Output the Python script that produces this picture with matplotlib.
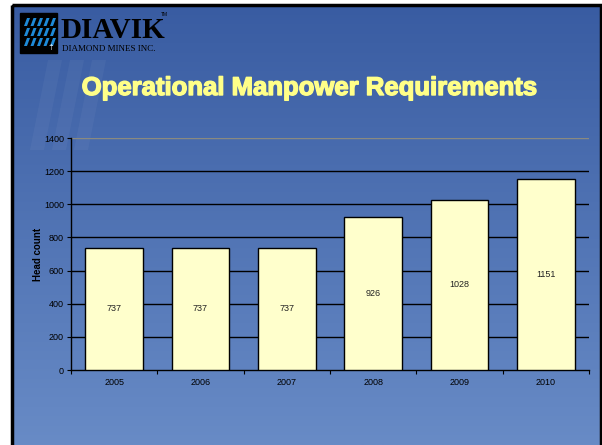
import numpy as np
import matplotlib
matplotlib.use("Agg")
import matplotlib.pyplot as plt
from matplotlib.patches import Rectangle, Polygon
import matplotlib.patheffects as pe

# data
years = ["2005", "2006", "2007", "2008", "2009", "2010"]
head_count = [737, 737, 737, 926, 1028, 1151]
y_ticks = [0, 200, 400, 600, 800, 1000, 1200, 1400]

plt.rcParams['font.family'] = ['Liberation Sans', 'DejaVu Sans']

fig = plt.figure(figsize=(6.02, 4.45), dpi=100)
fig.patch.set_facecolor("white")

# background "slide" in pixel coordinates
bg = fig.add_axes([0, 0, 1, 1])
bg.set_xlim(0, 602)
bg.set_ylim(445, 0)
bg.axis("off")

grad = np.linspace(0, 1, 256).reshape(-1, 1)
top = np.array([0x39, 0x5c, 0xa2]) / 255
bottom = np.array([0x68, 0x8b, 0xc6]) / 255
img = top + (bottom - top) * grad[:, :, None]
bg.imshow(img, extent=[12, 601, 445, 5], aspect="auto", zorder=0)
bg.add_patch(Rectangle((12, 5), 589, 442, fill=False, edgecolor="black", lw=2.5, zorder=1))

# faint watermark shapes on the left
for dx in [0, 22, 44]:
    bg.add_patch(Polygon([(30 + dx, 150), (48 + dx, 60), (62 + dx, 60), (44 + dx, 150)],
                         closed=True, color="white", alpha=0.04, lw=0, zorder=1))

# logo
bg.add_patch(Rectangle((20, 13), 37, 40, color="black", zorder=2))
for i in range(5):
    for j in range(3):
        x0 = 24 + i * 6.5
        y0 = 18 + j * 10
        bg.add_patch(Polygon([(x0 + 3, y0), (x0 + 6, y0), (x0 + 3, y0 + 8), (x0, y0 + 8)],
                             closed=True, color="#1e8ad8", lw=0, zorder=3))
bg.text(51, 48, "†", color="white", fontsize=6, ha="center", va="center", zorder=3)
bg.text(60, 38.5, "DIAVIK", family=["Liberation Serif"], fontweight="bold",
        fontsize=21, color="black", ha="left", va="baseline", zorder=3)
bg.text(62, 45, "DIAMOND MINES INC.", family=["Liberation Serif"],
        fontsize=6.5, color="black", ha="left", va="top", zorder=3)
bg.text(161, 15, "TM", fontsize=3.5, color="black", ha="left", va="center", zorder=3)

# title
bg.text(310, 88, "Operational Manpower Requirements", fontweight="bold",
        fontsize=18.5, color="#ffff88", ha="center", va="center", zorder=3,
        path_effects=[pe.withStroke(linewidth=1.0, foreground="#ffff88")])

# chart
ax = fig.add_axes([71 / 602, 1 - 370 / 445, 518 / 602, 232 / 445])
ax.patch.set_alpha(0)
x = np.arange(len(years))
bars = ax.bar(x, head_count, width=0.67, color="#ffffcc", edgecolor="black", lw=1.0, zorder=3)
for b, v in zip(bars, head_count):
    ax.text(b.get_x() + b.get_width() / 2, v / 2, str(v), ha="center", va="center",
            fontsize=6.5, color="#222222", zorder=4)

ax.set_xlim(-0.5, len(years) - 0.5)
ax.set_ylim(0, 1400)
ax.set_yticks(y_ticks)
ax.set_yticklabels([str(t) for t in y_ticks], fontsize=6.5)
for t in y_ticks[1:-1]:
    ax.axhline(t, color="black", lw=1.0, zorder=1)
ax.axhline(1400, color="#8a8a80", lw=1.0, zorder=1)

ax.set_xticks(x)
ax.set_xticklabels(years, fontsize=6.5)
ax.tick_params(axis="x", length=0, pad=6)
ax.set_xticks(np.arange(-0.5, len(years)), minor=True)
ax.tick_params(axis="x", which="minor", length=3, width=0.8, direction="out")
ax.tick_params(axis="y", length=3, width=0.8, pad=2)

ax.set_ylabel("Head count", fontsize=7, fontweight="bold", labelpad=1)

for s in ["top", "right"]:
    ax.spines[s].set_visible(False)
ax.spines["left"].set_linewidth(1.0)
ax.spines["bottom"].set_linewidth(1.0)

fig.savefig("out.png", dpi=100)
